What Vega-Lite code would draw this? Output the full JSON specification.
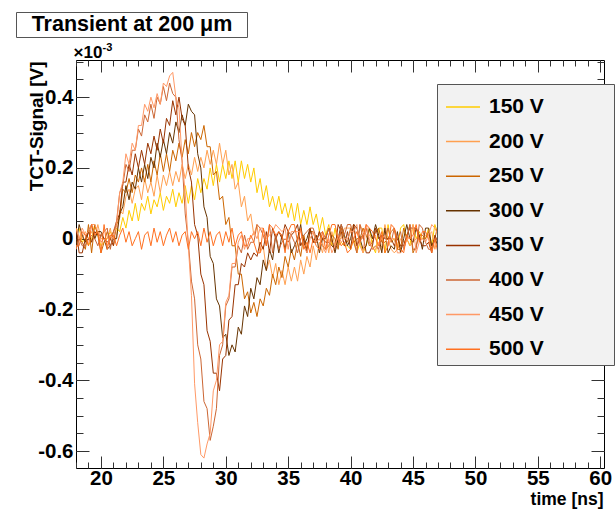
{
"$schema":"https://vega.github.io/schema/vega-lite/v6.json",
"autosize":{"type":"none"},
"padding":{"left":76,"top":60,"right":11,"bottom":41},
"width":528,"height":408,
"config":{
 "font":"Liberation Sans",
 "view":{"stroke":"#000","strokeWidth":1},
 "axis":{"grid":false,"domain":false,"labelFont":"Liberation Sans","labelFontWeight":"bold","labelFontSize":20.5,"labelColor":"#000","titleFont":"Liberation Sans","titleFontWeight":"bold","titleColor":"#000","tickColor":"#333","tickWidth":1,"labelFlush":false,"labelOverlap":false}
},
"data":{"values":[
{"t":18,"150":0.02,"200":-0.03,"250":0.03,"300":-0.02,"350":0.03,"400":-0.03,"450":0.03,"500":-0.02},
{"t":18.25,"150":0.03,"200":0,"250":0,"300":0.04,"350":-0.04,"400":0,"450":0,"500":-0.02},
{"t":18.5,"150":-0.01,"200":0,"250":-0.01,"300":0.01,"350":-0.04,"400":-0.02,"450":0.03,"500":0.02},
{"t":18.75,"150":0,"200":0.02,"250":-0.03,"300":-0.01,"350":0,"400":-0.02,"450":0.01,"500":0.01},
{"t":19,"150":-0.02,"200":0,"250":0.04,"300":0.02,"350":0.02,"400":0,"450":0.02,"500":-0.02},
{"t":19.25,"150":0,"200":0.02,"250":-0.04,"300":0.04,"350":-0.01,"400":0.01,"450":0.04,"500":0.04},
{"t":19.5,"150":0.04,"200":0,"250":0.04,"300":0,"350":0.02,"400":0,"450":0.04,"500":0.01},
{"t":19.75,"150":0.01,"200":0.04,"250":0.01,"300":0.02,"350":0.01,"400":-0.02,"450":0.02,"500":0.02},
{"t":20,"150":-0.02,"200":0,"250":-0.04,"300":0.02,"350":0.01,"400":0.01,"450":-0.01,"500":-0.04},
{"t":20.25,"150":-0.01,"200":0,"250":-0.01,"300":0,"350":0,"400":0.02,"450":0,"500":0.04},
{"t":20.5,"150":0,"200":0,"250":0.02,"300":-0.03,"350":-0.01,"400":0.03,"450":-0.02,"500":-0.03},
{"t":20.75,"150":0.02,"200":0.03,"250":0,"300":-0.02,"350":0,"400":-0.03,"450":0.01,"500":0.01},
{"t":21,"150":0,"200":-0.02,"250":0.02,"300":0,"350":-0.02,"400":0.02,"450":0,"500":0.01},
{"t":21.25,"150":0.03,"200":0.01,"250":0.04,"300":0,"350":0.05,"400":0.05,"450":0.04,"500":-0.02},
{"t":21.5,"150":0.02,"200":0.08,"250":0.06,"300":0.07,"350":0.07,"400":0.13,"450":0.13,"500":0.01},
{"t":21.75,"150":0.06,"200":0.07,"250":0.14,"300":0.09,"350":0.16,"400":0.15,"450":0.16,"500":0.03},
{"t":22,"150":0.03,"200":0.12,"250":0.13,"300":0.15,"350":0.16,"400":0.21,"450":0.24,"500":-0.01},
{"t":22.25,"150":0.08,"200":0.14,"250":0.17,"300":0.11,"350":0.21,"400":0.19,"450":0.21,"500":0.02},
{"t":22.5,"150":0.05,"200":0.1,"250":0.13,"300":0.16,"350":0.18,"400":0.25,"450":0.27,"500":-0.02},
{"t":22.75,"150":0.1,"200":0.14,"250":0.18,"300":0.14,"350":0.24,"400":0.25,"450":0.25,"500":0},
{"t":23,"150":0.05,"200":0.15,"250":0.16,"300":0.2,"350":0.2,"400":0.31,"450":0.32,"500":0.02},
{"t":23.25,"150":0.1,"200":0.11,"250":0.2,"300":0.16,"350":0.25,"400":0.29,"450":0.32,"500":-0.03},
{"t":23.5,"150":0.08,"200":0.17,"250":0.16,"300":0.21,"350":0.21,"400":0.35,"450":0.38,"500":0.01},
{"t":23.75,"150":0.12,"200":0.13,"250":0.21,"300":0.17,"350":0.27,"400":0.33,"450":0.36,"500":0.02},
{"t":24,"150":0.07,"200":0.16,"250":0.16,"300":0.23,"350":0.24,"400":0.38,"450":0.4,"500":-0.02},
{"t":24.25,"150":0.11,"200":0.12,"250":0.22,"300":0.2,"350":0.29,"400":0.34,"450":0.37,"500":0.03},
{"t":24.5,"150":0.09,"200":0.18,"250":0.18,"300":0.27,"350":0.25,"400":0.4,"450":0.41,"500":-0.01},
{"t":24.75,"150":0.13,"200":0.13,"250":0.24,"300":0.23,"350":0.31,"400":0.38,"450":0.38,"500":0.02},
{"t":25,"150":0.08,"200":0.18,"250":0.19,"300":0.28,"350":0.27,"400":0.43,"450":0.44,"500":-0.02},
{"t":25.25,"150":0.12,"200":0.15,"250":0.24,"300":0.24,"350":0.34,"400":0.39,"450":0.43,"500":0.01},
{"t":25.5,"150":0.1,"200":0.19,"250":0.19,"300":0.3,"350":0.32,"400":0.44,"450":0.46,"500":0.03},
{"t":25.75,"150":0.14,"200":0.15,"250":0.25,"300":0.27,"350":0.39,"400":0.41,"450":0.47,"500":-0.01},
{"t":26,"150":0.09,"200":0.19,"250":0.22,"300":0.33,"350":0.35,"400":0.4,"450":0.4,"500":0.02},
{"t":26.25,"150":0.13,"200":0.16,"250":0.27,"300":0.3,"350":0.4,"400":0.28,"450":0.37,"500":-0.02},
{"t":26.5,"150":0.1,"200":0.21,"250":0.23,"300":0.35,"350":0.34,"400":0.22,"450":0.22,"500":0.01},
{"t":26.75,"150":0.15,"200":0.17,"250":0.28,"300":0.32,"350":0.32,"400":0.07,"450":0.13,"500":0.02},
{"t":27,"150":0.1,"200":0.21,"250":0.24,"300":0.38,"350":0.2,"400":-0.01,"450":-0.02,"500":-0.03},
{"t":27.25,"150":0.15,"200":0.18,"250":0.3,"300":0.36,"350":0.16,"400":-0.12,"450":-0.16,"500":0.02},
{"t":27.5,"150":0.11,"200":0.23,"250":0.26,"300":0.35,"350":0.04,"400":-0.17,"450":-0.41,"500":0},
{"t":27.75,"150":0.17,"200":0.19,"250":0.3,"300":0.24,"350":0.01,"400":-0.3,"450":-0.52,"500":0.02},
{"t":28,"150":0.13,"200":0.23,"250":0.28,"300":0.2,"350":-0.1,"400":-0.34,"450":-0.61,"500":-0.02},
{"t":28.25,"150":0.17,"200":0.2,"250":0.32,"300":0.09,"350":-0.13,"400":-0.46,"450":-0.62,"500":0.03},
{"t":28.5,"150":0.14,"200":0.25,"250":0.26,"300":0.06,"350":-0.26,"400":-0.48,"450":-0.58,"500":-0.01},
{"t":28.75,"150":0.2,"200":0.21,"250":0.26,"300":-0.05,"350":-0.29,"400":-0.57,"450":-0.55,"500":0.02},
{"t":29,"150":0.15,"200":0.25,"250":0.18,"300":-0.07,"350":-0.38,"400":-0.53,"450":-0.43,"500":-0.02},
{"t":29.25,"150":0.21,"200":0.21,"250":0.19,"300":-0.17,"350":-0.38,"400":-0.48,"450":-0.4,"500":0.01},
{"t":29.5,"150":0.16,"200":0.27,"250":0.11,"300":-0.19,"350":-0.43,"400":-0.33,"450":-0.3,"500":0.02},
{"t":29.75,"150":0.21,"200":0.21,"250":0.12,"300":-0.28,"350":-0.34,"400":-0.3,"450":-0.29,"500":-0.02},
{"t":30,"150":0.17,"200":0.25,"250":0.04,"300":-0.27,"350":-0.33,"400":-0.19,"450":-0.18,"500":0.02},
{"t":30.25,"150":0.22,"200":0.18,"250":0.06,"300":-0.33,"350":-0.23,"400":-0.17,"450":-0.16,"500":-0.01},
{"t":30.5,"150":0.17,"200":0.21,"250":-0.02,"300":-0.3,"350":-0.22,"400":-0.08,"450":-0.07,"500":0.03},
{"t":30.75,"150":0.22,"200":0.14,"250":-0.02,"300":-0.32,"350":-0.13,"400":-0.08,"450":-0.07,"500":-0.02},
{"t":31,"150":0.16,"200":0.16,"250":-0.1,"300":-0.25,"350":-0.13,"400":-0.02,"450":-0.01,"500":0.01},
{"t":31.25,"150":0.22,"200":0.09,"250":-0.1,"300":-0.27,"350":-0.07,"400":-0.04,"450":0.01,"500":0.02},
{"t":31.5,"150":0.17,"200":0.12,"250":-0.17,"300":-0.19,"350":-0.08,"400":0.01,"450":-0.03,"500":-0.02},
{"t":31.75,"150":0.21,"200":0.05,"250":-0.15,"300":-0.22,"350":-0.04,"400":-0.03,"450":0,"500":-0.02},
{"t":32,"150":0.16,"200":0.07,"250":-0.21,"300":-0.14,"350":-0.06,"400":-0.01,"450":0,"500":0.01},
{"t":32.25,"150":0.2,"200":0.01,"250":-0.18,"300":-0.17,"350":-0.04,"400":-0.01,"450":0.02,"500":-0.01},
{"t":32.5,"150":0.13,"200":0.04,"250":-0.22,"300":-0.11,"350":-0.05,"400":0.04,"450":0,"500":-0.04},
{"t":32.75,"150":0.17,"200":-0.04,"250":-0.17,"300":-0.13,"350":-0.01,"400":0.03,"450":0.03,"500":-0.04},
{"t":33,"150":0.11,"200":-0.02,"250":-0.19,"300":-0.06,"350":-0.03,"400":0.01,"450":0.03,"500":0.03},
{"t":33.25,"150":0.15,"200":-0.09,"250":-0.14,"300":-0.09,"350":0.02,"400":-0.02,"450":0,"500":-0.02},
{"t":33.5,"150":0.09,"200":-0.06,"250":-0.16,"300":-0.03,"350":-0.04,"400":0.04,"450":0.01,"500":0.04},
{"t":33.75,"150":0.12,"200":-0.11,"250":-0.1,"300":-0.06,"350":0.03,"400":-0.04,"450":0.02,"500":0.03},
{"t":34,"150":0.08,"200":-0.07,"250":-0.13,"300":0.01,"350":0,"400":0.01,"450":0.04,"500":0.01},
{"t":34.25,"150":0.12,"200":-0.13,"250":-0.08,"300":-0.04,"350":0.02,"400":-0.03,"450":0.03,"500":0.02},
{"t":34.5,"150":0.07,"200":-0.09,"250":-0.11,"300":0.01,"350":0,"400":-0.01,"450":0.02,"500":0.01},
{"t":34.75,"150":0.1,"200":-0.13,"250":-0.05,"300":-0.03,"350":0.04,"400":0,"450":0.03,"500":-0.04},
{"t":35,"150":0.06,"200":-0.08,"250":-0.08,"300":0.02,"350":0.02,"400":-0.01,"450":-0.03,"500":0.02},
{"t":35.25,"150":0.1,"200":-0.12,"250":-0.03,"300":-0.04,"350":0.01,"400":0.01,"450":0.02,"500":0.04},
{"t":35.5,"150":0.05,"200":-0.08,"250":-0.06,"300":-0.02,"350":0.02,"400":-0.01,"450":0.02,"500":0.04},
{"t":35.75,"150":0.1,"200":-0.12,"250":-0.01,"300":0,"350":0.04,"400":-0.04,"450":0.02,"500":-0.01},
{"t":36,"150":0.04,"200":-0.06,"250":-0.05,"300":0.04,"350":-0.02,"400":0,"450":0.02,"500":0.03},
{"t":36.25,"150":0.08,"200":-0.1,"250":0.01,"300":-0.02,"350":0,"400":0.01,"450":-0.02,"500":-0.03},
{"t":36.5,"150":0.04,"200":-0.05,"250":-0.03,"300":0,"350":-0.04,"400":0.02,"450":-0.04,"500":-0.01},
{"t":36.75,"150":0.09,"200":-0.08,"250":0.02,"300":0.03,"350":0.03,"400":0.03,"450":0,"500":-0.04},
{"t":37,"150":0.04,"200":-0.02,"250":0.02,"300":-0.01,"350":-0.01,"400":0.03,"450":0.02,"500":0},
{"t":37.25,"150":0.07,"200":-0.06,"250":-0.01,"300":0.01,"350":-0.01,"400":0,"450":-0.01,"500":-0.02},
{"t":37.5,"150":0.02,"200":-0.01,"250":0.02,"300":-0.04,"350":0.02,"400":0.01,"450":0,"500":-0.03},
{"t":37.75,"150":0.06,"200":-0.04,"250":-0.02,"300":0,"350":0,"400":0.02,"450":-0.02,"500":0.02},
{"t":38,"150":0.01,"200":0.01,"250":-0.03,"300":0,"350":-0.01,"400":0,"450":-0.04,"500":-0.03},
{"t":38.25,"150":0.04,"200":-0.04,"250":-0.02,"300":0.03,"350":-0.01,"400":0.03,"450":0,"500":0.01},
{"t":38.5,"150":-0.02,"200":0.02,"250":0.01,"300":0,"350":-0.02,"400":-0.01,"450":-0.04,"500":0.04},
{"t":38.75,"150":0.03,"200":-0.02,"250":0,"300":-0.04,"350":-0.03,"400":-0.02,"450":-0.02,"500":0.04},
{"t":39,"150":-0.02,"200":0,"250":-0.03,"300":0,"350":0.04,"400":-0.02,"450":0.01,"500":0},
{"t":39.25,"150":-0.01,"200":0,"250":0.03,"300":0.04,"350":0.02,"400":0.04,"450":-0.01,"500":-0.02},
{"t":39.5,"150":-0.02,"200":0.03,"250":0,"300":0.01,"350":-0.02,"400":0.01,"450":0,"500":-0.01},
{"t":39.75,"150":-0.02,"200":0.03,"250":-0.01,"300":-0.02,"350":0.02,"400":0.04,"450":0,"500":-0.04},
{"t":40,"150":-0.03,"200":0.03,"250":0.03,"300":0,"350":-0.03,"400":0.04,"450":0.02,"500":-0.03},
{"t":40.25,"150":0,"200":0.04,"250":-0.01,"300":0.04,"350":0.04,"400":-0.01,"450":0.02,"500":0},
{"t":40.5,"150":-0.04,"200":-0.04,"250":0,"300":0.03,"350":-0.02,"400":-0.04,"450":0.04,"500":0.02},
{"t":40.75,"150":-0.01,"200":0.04,"250":0,"300":0,"350":0,"400":0.04,"450":-0.02,"500":-0.01},
{"t":41,"150":-0.04,"200":0.02,"250":0.03,"300":-0.03,"350":0.01,"400":0,"450":-0.04,"500":0.01},
{"t":41.25,"150":-0.02,"200":0.03,"250":0.01,"300":-0.02,"350":-0.04,"400":0.03,"450":0.04,"500":0.04},
{"t":41.5,"150":0.03,"200":0.01,"250":-0.02,"300":0.03,"350":-0.04,"400":-0.01,"450":0,"500":0.03},
{"t":41.75,"150":-0.02,"200":0,"250":-0.01,"300":0,"350":-0.02,"400":-0.03,"450":-0.03,"500":0.02},
{"t":42,"150":-0.04,"200":0.01,"250":0.02,"300":0.04,"350":0.03,"400":-0.02,"450":-0.03,"500":0},
{"t":42.25,"150":0.03,"200":-0.04,"250":0.03,"300":0.01,"350":0,"400":-0.03,"450":-0.01,"500":-0.02},
{"t":42.5,"150":0.03,"200":-0.02,"250":-0.01,"300":-0.04,"350":0.01,"400":0.01,"450":0,"500":0.02},
{"t":42.75,"150":-0.04,"200":0.04,"250":-0.01,"300":0.03,"350":0,"400":0,"450":0.01,"500":-0.04},
{"t":43,"150":0.04,"200":0,"250":0,"300":-0.04,"350":0,"400":0.03,"450":-0.02,"500":-0.02},
{"t":43.25,"150":-0.01,"200":-0.03,"250":0.02,"300":-0.02,"350":0,"400":-0.01,"450":0,"500":0.04},
{"t":43.5,"150":0,"200":-0.04,"250":0.03,"300":-0.03,"350":-0.02,"400":0.03,"450":0,"500":0.03},
{"t":43.75,"150":-0.03,"200":-0.03,"250":-0.03,"300":0.02,"350":0,"400":0,"450":-0.04,"500":-0.02},
{"t":44,"150":0.03,"200":0,"250":-0.03,"300":-0.04,"350":-0.02,"400":0.02,"450":-0.04,"500":-0.03},
{"t":44.25,"150":0.04,"200":-0.01,"250":0.03,"300":0,"350":-0.02,"400":-0.03,"450":-0.03,"500":-0.04},
{"t":44.5,"150":0,"200":0,"250":0,"300":0.04,"350":0.01,"400":0,"450":0,"500":0.01},
{"t":44.75,"150":-0.02,"200":-0.02,"250":0.04,"300":0,"350":0.03,"400":0.04,"450":0,"500":0},
{"t":45,"150":0.04,"200":-0.01,"250":-0.04,"300":-0.01,"350":0.03,"400":-0.03,"450":0.04,"500":0.01},
{"t":45.25,"150":0,"200":0,"250":-0.02,"300":0.03,"350":0.03,"400":-0.03,"450":-0.04,"500":0.04},
{"t":45.5,"150":0.02,"200":0,"250":0.01,"300":0.01,"350":0,"400":0.04,"450":-0.01,"500":-0.01},
{"t":45.75,"150":0,"200":0,"250":0.01,"300":-0.03,"350":-0.02,"400":0.03,"450":0,"500":0.02},
{"t":46,"150":0,"200":0.01,"250":0,"300":0.03,"350":-0.02,"400":-0.01,"450":-0.01,"500":0.02},
{"t":46.25,"150":0.03,"200":0.01,"250":0.02,"300":0.03,"350":-0.01,"400":-0.03,"450":0.01,"500":0},
{"t":46.5,"150":-0.02,"200":0.02,"250":-0.03,"300":-0.02,"350":-0.04,"400":-0.03,"450":0.04,"500":-0.04},
{"t":46.75,"150":0.04,"200":-0.03,"250":0,"300":0,"350":0.01,"400":0,"450":0.03,"500":0},
{"t":47,"150":0.01,"200":0.01,"250":0.04,"300":-0.02,"350":-0.01,"400":0,"450":0.01,"500":-0.04},
{"t":47.25,"150":-0.01,"200":0,"250":0.03,"300":0.01,"350":-0.03,"400":-0.04,"450":0,"500":0},
{"t":47.5,"150":0,"200":-0.01,"250":-0.02,"300":0.01,"350":0.01,"400":0,"450":0.03,"500":-0.02},
{"t":47.75,"150":-0.03,"200":-0.01,"250":-0.01,"300":0.04,"350":-0.01,"400":0.01,"450":-0.04,"500":0.02},
{"t":48,"150":-0.02,"200":0.01,"250":-0.04,"300":-0.02,"350":0,"400":0.04,"450":-0.03,"500":0},
{"t":48.25,"150":-0.03,"200":-0.02,"250":0.02,"300":-0.01,"350":0.02,"400":-0.02,"450":0,"500":0},
{"t":48.5,"150":0.03,"200":0.02,"250":-0.04,"300":-0.04,"350":0.01,"400":0.01,"450":-0.04,"500":0.01},
{"t":48.75,"150":-0.01,"200":-0.03,"250":0,"300":0,"350":0.03,"400":0.03,"450":-0.03,"500":0.02},
{"t":49,"150":0,"200":0.03,"250":0.03,"300":-0.03,"350":0,"400":-0.02,"450":-0.04,"500":0.04},
{"t":49.25,"150":-0.02,"200":-0.04,"250":0.04,"300":0.01,"350":-0.02,"400":0.03,"450":-0.02,"500":0.04},
{"t":49.5,"150":-0.02,"200":0,"250":0,"300":-0.04,"350":0.04,"400":-0.03,"450":0.02,"500":-0.03},
{"t":49.75,"150":0,"200":-0.01,"250":0.01,"300":0,"350":-0.01,"400":0.01,"450":0.02,"500":0.03},
{"t":50,"150":0.04,"200":-0.02,"250":0,"300":0.04,"350":-0.04,"400":-0.01,"450":0.01,"500":-0.04},
{"t":50.25,"150":-0.04,"200":-0.03,"250":-0.03,"300":-0.01,"350":-0.01,"400":-0.04,"450":0,"500":-0.01},
{"t":50.5,"150":-0.04,"200":0,"250":0,"300":0.03,"350":0.03,"400":-0.02,"450":-0.04,"500":0},
{"t":50.75,"150":0.01,"200":0.01,"250":0,"300":-0.02,"350":-0.03,"400":-0.01,"450":0.03,"500":0},
{"t":51,"150":-0.03,"200":0,"250":0.01,"300":0.04,"350":0,"400":-0.03,"450":0.04,"500":0},
{"t":51.25,"150":-0.03,"200":0,"250":-0.03,"300":-0.03,"350":0.01,"400":-0.04,"450":0.04,"500":0},
{"t":51.5,"150":-0.01,"200":-0.01,"250":-0.04,"300":0,"350":0.02,"400":-0.02,"450":0.02,"500":-0.04},
{"t":51.75,"150":-0.01,"200":0.01,"250":0,"300":0.02,"350":0,"400":0.04,"450":0,"500":0.04},
{"t":52,"150":-0.03,"200":0.04,"250":0,"300":-0.01,"350":-0.04,"400":0.04,"450":-0.02,"500":-0.03},
{"t":52.25,"150":0.03,"200":0.01,"250":-0.03,"300":-0.03,"350":0.02,"400":-0.01,"450":0.03,"500":-0.03},
{"t":52.5,"150":0.04,"200":-0.01,"250":-0.02,"300":0.01,"350":-0.03,"400":-0.03,"450":0.02,"500":0.04},
{"t":52.75,"150":-0.01,"200":-0.03,"250":-0.04,"300":0,"350":-0.03,"400":-0.03,"450":0.03,"500":0},
{"t":53,"150":0,"200":0.03,"250":-0.04,"300":0.02,"350":0,"400":0,"450":0.01,"500":-0.02},
{"t":53.25,"150":-0.01,"200":0.02,"250":0.04,"300":0.04,"350":0.01,"400":-0.02,"450":0.02,"500":0},
{"t":53.5,"150":0.04,"200":0,"250":0.01,"300":0.02,"350":-0.01,"400":0,"450":-0.03,"500":0.03},
{"t":53.75,"150":0.03,"200":0,"250":0.02,"300":0,"350":-0.02,"400":0.02,"450":-0.02,"500":0},
{"t":54,"150":0.03,"200":0.04,"250":-0.03,"300":-0.02,"350":-0.02,"400":0.02,"450":0.04,"500":-0.01},
{"t":54.25,"150":0.03,"200":-0.03,"250":0.03,"300":-0.01,"350":-0.04,"400":-0.03,"450":-0.03,"500":0.04},
{"t":54.5,"150":0,"200":0.04,"250":-0.03,"300":-0.02,"350":0.04,"400":0.03,"450":-0.01,"500":-0.01},
{"t":54.75,"150":0.01,"200":0.02,"250":-0.01,"300":-0.01,"350":0.01,"400":-0.02,"450":0,"500":0},
{"t":55,"150":-0.04,"200":0.01,"250":0,"300":0.01,"350":0.01,"400":0,"450":-0.01,"500":-0.04},
{"t":55.25,"150":0.03,"200":0.01,"250":-0.04,"300":-0.02,"350":-0.03,"400":-0.01,"450":0.04,"500":0},
{"t":55.5,"150":0.04,"200":0,"250":0.01,"300":-0.01,"350":0.04,"400":0,"450":-0.02,"500":-0.02},
{"t":55.75,"150":0,"200":0.02,"250":-0.01,"300":0.02,"350":-0.03,"400":0.04,"450":-0.04,"500":0.02},
{"t":56,"150":-0.04,"200":-0.02,"250":-0.03,"300":0.02,"350":0.04,"400":0.03,"450":0.01,"500":-0.04},
{"t":56.25,"150":0.04,"200":0,"250":-0.01,"300":0.02,"350":-0.04,"400":-0.02,"450":0.02,"500":0.02},
{"t":56.5,"150":-0.04,"200":0,"250":-0.01,"300":0.04,"350":-0.02,"400":-0.03,"450":0.02,"500":-0.03},
{"t":56.75,"150":0.02,"200":0.01,"250":-0.02,"300":0.04,"350":-0.01,"400":-0.03,"450":0.02,"500":0.01},
{"t":57,"150":0.02,"200":0,"250":-0.02,"300":-0.01,"350":0.03,"400":0,"450":0.01,"500":0.02},
{"t":57.25,"150":0,"200":0.03,"250":-0.03,"300":0.03,"350":0,"400":0.01,"450":0.02,"500":0.01},
{"t":57.5,"150":0.01,"200":0.04,"250":0,"300":-0.04,"350":0,"400":-0.03,"450":-0.01,"500":-0.02},
{"t":57.75,"150":-0.04,"200":-0.04,"250":-0.04,"300":0,"350":0.01,"400":0.03,"450":-0.03,"500":-0.02},
{"t":58,"150":0.02,"200":-0.03,"250":0,"300":0,"350":-0.02,"400":0.01,"450":-0.01,"500":0},
{"t":58.25,"150":0.01,"200":-0.04,"250":0.03,"300":-0.02,"350":0.02,"400":0.02,"450":0.03,"500":0},
{"t":58.5,"150":0.02,"200":0.02,"250":-0.03,"300":-0.01,"350":0,"400":-0.02,"450":0.02,"500":0},
{"t":58.75,"150":0.02,"200":0.02,"250":0.03,"300":0.04,"350":0.01,"400":-0.04,"450":0.04,"500":-0.03},
{"t":59,"150":0.02,"200":-0.01,"250":0.01,"300":-0.01,"350":0.02,"400":-0.03,"450":0.02,"500":0.03},
{"t":59.25,"150":0.02,"200":-0.02,"250":-0.03,"300":0,"350":0.01,"400":0.03,"450":0,"500":0},
{"t":59.5,"150":-0.04,"200":0.04,"250":-0.04,"300":-0.03,"350":-0.02,"400":-0.02,"450":0,"500":0.04},
{"t":59.75,"150":0,"200":-0.01,"250":0,"300":-0.01,"350":-0.04,"400":-0.03,"450":0,"500":0.01},
{"t":60,"150":0,"200":0,"250":0.04,"300":0,"350":0.03,"400":0,"450":-0.01,"500":0.02}
]},
"transform":[{"fold":["150","200","250","300","350","400","450","500"],"as":["v","y"]}],
"resolve":{"axis":{"x":"independent","y":"independent"}},
"layer":[
 {"mark":{"type":"line","strokeWidth":1,"clip":true},
  "encoding":{
   "x":{"field":"t","type":"quantitative","scale":{"domain":[18,60.3],"nice":false,"zero":false},
    "axis":{"orient":"bottom","values":[20,25,30,35,40,45,50,55,60],"ticks":false,"labelPadding":0,"title":"time [ns]","titleFontSize":17.5,"titleX":527,"titleY":36,"titleAlign":"right","titleBaseline":"alphabetic","titleAngle":0}},
   "y":{"field":"y","type":"quantitative","scale":{"domain":[-0.648,0.505],"nice":false,"zero":false},
    "axis":{"orient":"left","values":[-0.6,-0.4,-0.2,0,0.2,0.4],"ticks":false,"labelPadding":3,"labelExpr":"datum.value == 0 ? '0' : replace(format(datum.value, '.1f'), '\u2212', '-')","title":"TCT-Signal [V]","titleFontSize":19,"titleAngle":270,"titleX":-30,"titleY":1,"titleAlign":"right","titleBaseline":"bottom"}},
   "color":{"field":"v","type":"nominal",
    "scale":{"domain":["150","200","250","300","350","400","450","500"],"range":["#FFCC00","#FFA050","#CC6600","#663300","#993300","#CC6633","#FF9966","#FF7020"]},
    "legend":{"orient":"none","legendX":361,"legendY":24,"title":null,"symbolType":"stroke","symbolSize":1156,"symbolStrokeWidth":1.5,"labelFont":"Liberation Sans","labelFontSize":21,"labelFontWeight":"bold","labelColor":"#000","labelOffset":8,"padding":5,"symbolOffset":3,"rowPadding":6.6,"fillColor":"#f2f2f2","strokeColor":"#555","labelLimit":500,"labelExpr":"datum.label + ' V\u00a0\u00a0\u00a0\u00a0\u00a0\u00a0\u00a0\u00a0\u00a0\u00a0\u00a0\u200b'"}}
  }},
 {"transform":[{"filter":"datum.t == 18 && datum.v == '500'"}],
  "mark":{"type":"point","opacity":0},
  "encoding":{
   "x":{"field":"t","type":"quantitative","axis":{"orient":"bottom","values":[20,25,30,35,40,45,50,55,60],"labels":false,"tickSize":-12,"title":null}},
   "y":{"field":"y","type":"quantitative","axis":{"orient":"left","values":[-0.6,-0.4,-0.2,0,0.2,0.4],"labels":false,"tickSize":-13,"title":"-3","titleFontSize":11,"titleAngle":0,"titleX":26,"titleY":-10,"titleAlign":"left","titleBaseline":"alphabetic"}}
  }},
 {"transform":[{"filter":"datum.t == 18 && datum.v == '500'"}],
  "mark":{"type":"point","opacity":0},
  "encoding":{
   "x":{"field":"t","type":"quantitative","axis":{"orient":"bottom","values":[18,19,20,21,22,23,24,25,26,27,28,29,30,31,32,33,34,35,36,37,38,39,40,41,42,43,44,45,46,47,48,49,50,51,52,53,54,55,56,57,58,59,60],"labels":false,"tickSize":-6,"title":null}},
   "y":{"field":"y","type":"quantitative","axis":{"orient":"left","values":[-0.6,-0.55,-0.5,-0.45,-0.4,-0.35,-0.3,-0.25,-0.2,-0.15,-0.1,-0.05,0,0.05,0.1,0.15,0.2,0.25,0.3,0.35,0.4,0.45,0.5],"labels":false,"tickSize":-7,"title":"×10","titleFontSize":17,"titleAngle":0,"titleX":-3,"titleY":-3,"titleAlign":"left","titleBaseline":"alphabetic"}}
  }},
 {"transform":[{"filter":"datum.t == 18 && datum.v == '500'"}],
  "mark":{"type":"point","opacity":0},
  "encoding":{
   "x":{"field":"t","type":"quantitative","axis":{"orient":"top","values":[20,25,30,35,40,45,50,55,60],"labels":false,"tickSize":-12,"title":null}},
   "y":{"field":"y","type":"quantitative","axis":{"orient":"right","values":[-0.6,-0.4,-0.2,0,0.2,0.4],"labels":false,"tickSize":-13,"title":null}}
  }},
 {"transform":[{"filter":"datum.t == 18 && datum.v == '500'"}],
  "mark":{"type":"point","opacity":0},
  "encoding":{
   "x":{"field":"t","type":"quantitative","axis":{"orient":"top","values":[18,19,20,21,22,23,24,25,26,27,28,29,30,31,32,33,34,35,36,37,38,39,40,41,42,43,44,45,46,47,48,49,50,51,52,53,54,55,56,57,58,59,60],"labels":false,"tickSize":-6,"title":null}},
   "y":{"field":"y","type":"quantitative","axis":{"orient":"right","values":[-0.6,-0.55,-0.5,-0.45,-0.4,-0.35,-0.3,-0.25,-0.2,-0.15,-0.1,-0.05,0,0.05,0.1,0.15,0.2,0.25,0.3,0.35,0.4,0.45,0.5],"labels":false,"tickSize":-7,"title":null}}
  }},
 {"transform":[{"filter":"datum.t == 18 && datum.v == '500'"}],
  "mark":{"type":"point","opacity":0},
  "encoding":{
   "x":{"field":"t","type":"quantitative","axis":{"orient":"top","offset":23,"position":-60,"domain":true,"domainColor":"#555","domainWidth":1,"domainDash":[231,5000],"ticks":false,"labels":false,"title":null}},
   "y":{"field":"y","type":"quantitative","axis":{"orient":"left","offset":60,"position":-431,"domain":true,"domainColor":"#555","domainWidth":1,"domainDash":[25,5000],"ticks":false,"labels":false,"title":null}}
  }},
 {"transform":[{"filter":"datum.t == 18 && datum.v == '500'"}],
  "mark":{"type":"point","opacity":0},
  "encoding":{
   "x":{"field":"t","type":"quantitative","axis":{"orient":"top","offset":48,"position":-60,"domain":true,"domainColor":"#555","domainWidth":1,"domainDash":[231,5000],"ticks":false,"labels":false,"title":"Transient at 200 μm","titleFontSize":21.5,"titleAngle":0,"titleX":115.5,"titleY":12.5,"titleAlign":"center","titleBaseline":"middle"}},
   "y":{"field":"y","type":"quantitative","axis":{"orient":"left","offset":-171,"position":-431,"domain":true,"domainColor":"#555","domainWidth":1,"domainDash":[25,5000],"ticks":false,"labels":false,"title":null}}
  }}
]
}
